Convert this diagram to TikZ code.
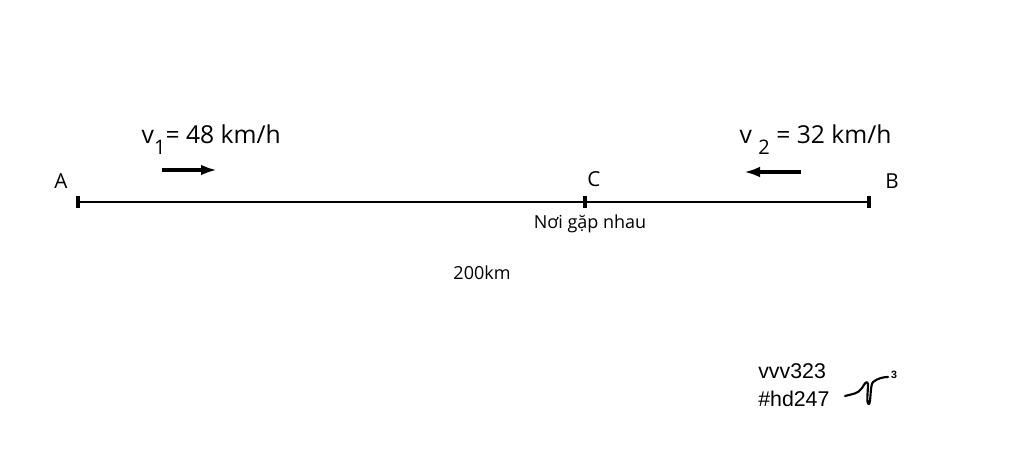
\documentclass[tikz,border=0pt]{standalone}
\usepackage{fontspec}
\setmainfont{Open Sans}
\newfontfamily\signfont{Liberation Sans}
\usetikzlibrary{arrows.meta, calc}

\tikzset{
    tick/.style={line width=3pt},
    move/.style={line width=2.6pt, -{Latex[length=12pt, width=8pt]}},
    pointlabel/.style={font=\fontsize{15.5}{18}\selectfont},
    speed/.style={font=\fontsize{18.5}{22}\selectfont, anchor=base west},
    small/.style={font=\fontsize{13.5}{16}\selectfont}
}

\begin{document}
\begin{tikzpicture}[x=0.75pt, y=-0.75pt]
    \useasboundingbox (0, 0) rectangle (1024, 469);

    \coordinate (A) at (78, 202);
    \coordinate (C) at (585, 202);
    \coordinate (B) at (869, 202);

    \node [pointlabel] (lA) at (61, 181) {A};
    \node [pointlabel] (lC) at (594, 179) {C};
    \node [pointlabel] (lB) at (892, 181) {B};

    \draw [line width=1.5pt] (A) -- (C) -- (B);
        \draw [tick] ($(A) + (0, -6)$) -- ($(A) + (0, 6)$);
        \draw [tick] ($(C) + (0, -6)$) -- ($(C) + (0, 6)$);
        \draw [tick] ($(B) + (0, -6)$) -- ($(B) + (0, 6)$);

    \node [small] (meet) at (590, 224) {Nơi gặp nhau};
    \node [small] (dist) at (482, 273) {200km};

    \node [speed] (v1) at (137, 143) {v\raisebox{-0.45em}{\fontsize{15}{17}\selectfont 1}= 48 km/h};
    \node [speed] (v2) at (735, 143) {v \raisebox{-0.45em}{\fontsize{15}{17}\selectfont 2} = 32 km/h};

    \coordinate (m1s) at (162, 170);
    \coordinate (m1e) at (217, 170);
    \coordinate (m2s) at (801, 172);
    \coordinate (m2e) at (744, 172);
    \draw [move] (m1s) -- (m1e);
    \draw [move] (m2s) -- (m2e);

    % signature
    \node [font=\signfont\fontsize{16}{21}\selectfont, align=left, anchor=north west, inner sep=0pt] (sign) at (758, 363) {vvv323\\\#hd247};
    \draw [line width=1.6pt, line cap=round, line join=round]
        (845, 396) .. controls (852, 394) and (858, 394) .. (862, 388)
        .. controls (865, 383) and (867, 380) .. (868, 384)
        .. controls (868, 392) and (866, 404) .. (869, 404)
        .. controls (871, 402) and (870, 385) .. (873, 382)
        .. controls (878, 378) and (884, 377) .. (888, 377);
    \node [font=\signfont\bfseries\fontsize{8}{9}\selectfont, inner sep=0pt] (sup3) at (894, 375) {3};
\end{tikzpicture}
\end{document}
